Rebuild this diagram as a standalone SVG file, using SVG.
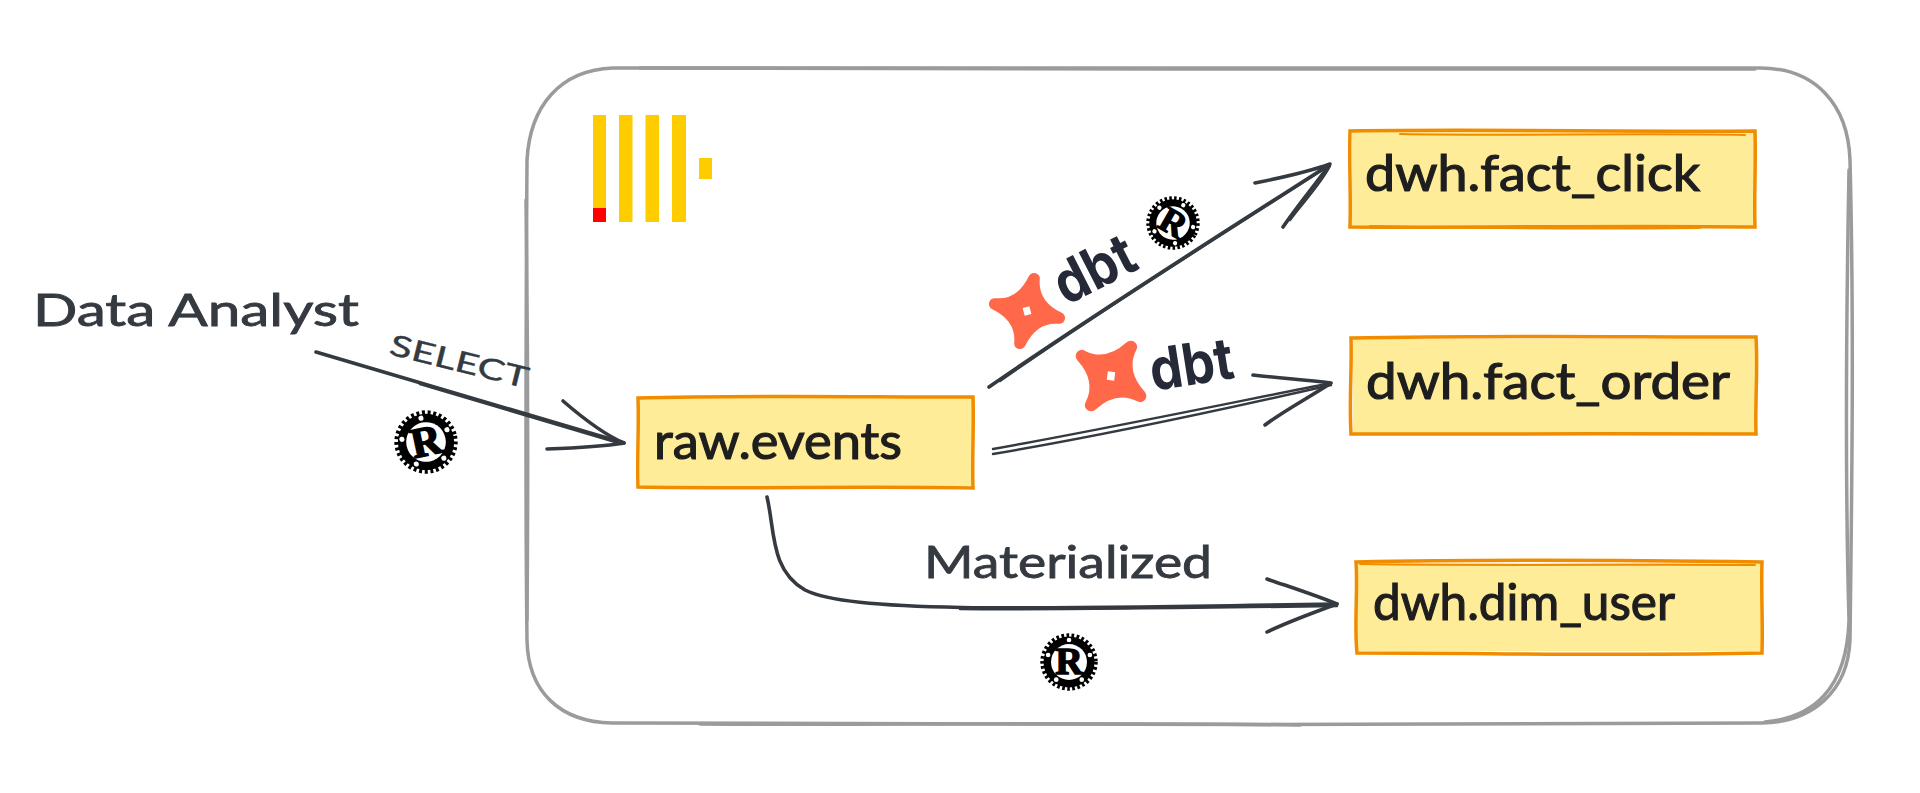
<svg xmlns="http://www.w3.org/2000/svg" width="1920" height="793" viewBox="0 0 1920 793">
<style>
.frame{fill:none;stroke:#9b9b9b;stroke-width:3.5;stroke-linecap:round}
.fill{fill:#ffec99}
.edge{fill:none;stroke:#f08c00;stroke-width:3.5;stroke-linecap:round}
.edge2{fill:none;stroke:#f08c00;stroke-width:2;stroke-linecap:round}
.line{fill:none;stroke:#343a40;stroke-width:3.600;stroke-linecap:round;stroke-linejoin:round}
.thin{fill:none;stroke:#343a40;stroke-width:2.400;stroke-linecap:round;stroke-linejoin:round}
.tbl{font-family:"Lato","Noto Sans",sans-serif;font-size:50px;fill:#1e1e1e;stroke:#1e1e1e;stroke-width:1.2}
.lbl{font-family:"Lato","Noto Sans",sans-serif;font-size:44px;fill:#343a40;stroke:#343a40;stroke-width:.8}
.sel{font-family:"Lato","Noto Sans",sans-serif;font-size:29px;fill:#343a40;stroke:#343a40;stroke-width:.4}
.dbt{font-family:"Inter","Liberation Sans",sans-serif;font-size:58px;font-weight:700;fill:#262a38}
.yb{fill:#fc0}
</style>
<defs>
<g id="rust">
<circle r="90" fill="none" stroke="#000" stroke-width="18" stroke-dasharray="9 8.2"/>
<circle r="88" fill="#000"/>
<circle r="62" fill="#fff"/>
<text x="0" y="42" text-anchor="middle" font-family="Liberation Serif" font-weight="700" font-size="132" fill="#000" stroke="#000" stroke-width="5">R</text>
<circle cx="0" cy="-76" r="8" fill="#fff"/><circle cx="72" cy="-24" r="8" fill="#fff"/><circle cx="44" cy="61" r="8" fill="#fff"/><circle cx="-44" cy="61" r="8" fill="#fff"/><circle cx="-72" cy="-24" r="8" fill="#fff"/>
</g>
<g id="dbtstar">
<path d="M36,-44 Q12,-6 44,36 Q6,12 -36,44 Q-12,6 -44,-36 Q-6,-12 36,-44 Z" fill="#ff694a" stroke="#ff694a" stroke-width="20" stroke-linejoin="round"/>
<rect x="-6" y="-7" width="12" height="14" fill="#fff" transform="rotate(12)"/>
</g>
</defs>
<rect width="1920" height="793" fill="#fff"/>

<g id="cluster-frame">
<path class="frame" d="M613,68 C900,66 1300,68 1760,68 C1815,68 1848,104 1850,160 C1854,320 1852,480 1850,640 C1848,692 1812,722 1762,723 C1400,726 950,724 612,723 C560,722 528,692 527,640 C525,480 526,320 527,160 C530,106 560,70 613,68 Z"/>
<path class="frame" d="M640,68 C1000,70 1400,68 1755,69 M1849,170 C1846,330 1845,480 1849,620 C1847,690 1812,718 1765,722 M1300,725 C1100,722 850,725 700,724 M526,200 C528,350 528,500 527,620"/>
</g>

<g id="clickhouse-logo">
<rect class="yb" x="593" y="115" width="13" height="107"/>
<rect x="593" y="208" width="13" height="14" fill="#f00"/>
<rect class="yb" x="619" y="115" width="13.500" height="107"/>
<rect class="yb" x="645.500" y="115" width="13.500" height="107"/>
<rect class="yb" x="672" y="115" width="14" height="107"/>
<rect class="yb" x="699" y="158" width="13" height="21"/>
</g>

<g id="connectors">
<g id="edge-select">
<path class="line" d="M316,352 L624,443"/>
<path class="thin" d="M420,384 L622,444"/>
<path class="line" d="M563,401 C585,420 605,435 624,443 C600,447 575,448 547,449"/>
</g>
<g id="edge-click">
<path class="line" d="M989,387 C1100,310 1220,235 1329,165"/>
<path class="thin" d="M1000,381 C1110,304 1230,230 1327,167"/>
<path class="line" d="M1255,183 C1280,178 1305,173 1330,164 C1315,185 1298,205 1283,227"/>
<path class="thin" d="M1290,220 C1305,200 1320,185 1330,166"/>
</g>
<g id="edge-order">
<path class="thin" d="M993,449 C1100,430 1220,405 1331,383"/>
<path class="thin" d="M993,454 C1100,436 1230,408 1331,385"/>
<path class="line" d="M1253,375 C1280,378 1305,380 1331,383 C1310,397 1285,410 1265,425"/>
</g>
<g id="edge-materialized">
<path class="line" d="M767,497 C775,530 770,570 805,590 C850,612 1000,610 1337,604"/>
<path class="thin" d="M960,609 C1050,610 1200,608 1337,606"/>
<path class="line" d="M1267,579 C1290,587 1315,595 1337,604 C1315,612 1290,621 1267,632"/>
</g>
</g>

<g id="actor-analyst">
<text class="lbl" x="33" y="326" textLength="326" lengthAdjust="spacingAndGlyphs">Data Analyst</text>
</g>
<g id="label-select">
<text class="sel" transform="translate(388,354) rotate(14)" textLength="142" lengthAdjust="spacingAndGlyphs">SELECT</text>
<use href="#rust" transform="translate(426,442) rotate(-12) scale(.32)"/>
</g>

<g id="node-raw-events">
<rect class="fill" x="640" y="398" width="332" height="88"/>
<path class="edge" d="M638,398 C750,395 860,397 973,397 C974,425 972,460 973,488 C860,486 750,489 638,487 C637,460 639,425 638,398 Z"/>
<text class="tbl" x="654" y="459" textLength="248" lengthAdjust="spacingAndGlyphs">raw.events</text>
</g>
<g id="node-fact-click">
<rect class="fill" x="1352" y="132" width="402" height="94"/>
<path class="edge" d="M1350,131 C1490,129 1620,132 1755,131 C1756,165 1754,195 1755,227 C1620,225 1490,228 1350,227 C1351,195 1349,165 1350,131 Z"/>
<path class="edge2" d="M1400,134 C1500,136 1650,133 1745,135 M1370,226 C1500,229 1600,229 1700,228"/>
<text class="tbl" x="1365" y="191" textLength="335" lengthAdjust="spacingAndGlyphs">dwh.fact_click</text>
</g>
<g id="node-fact-order">
<rect class="fill" x="1353" y="339" width="402" height="94"/>
<path class="edge" d="M1351,338 C1490,335 1620,337 1756,337 C1758,370 1755,400 1756,434 C1620,433 1490,435 1351,434 C1349,400 1352,370 1351,338 Z"/>
<text class="tbl" x="1366" y="399" textLength="364" lengthAdjust="spacingAndGlyphs">dwh.fact_order</text>
</g>
<g id="node-dim-user">
<rect class="fill" x="1357" y="563" width="405" height="88"/>
<path class="edge" d="M1356,562 C1490,559 1620,560 1762,562 C1761,590 1763,625 1762,653 C1620,656 1490,653 1357,653 C1354,625 1358,590 1356,562 Z"/>
<path class="edge2" d="M1360,564 C1500,566 1650,564 1755,565"/>
<text class="tbl" x="1373" y="620" textLength="302" lengthAdjust="spacingAndGlyphs">dwh.dim_user</text>
</g>

<g id="label-materialized">
<text class="lbl" x="924" y="578" textLength="288" lengthAdjust="spacingAndGlyphs">Materialized</text>
<use href="#rust" transform="translate(1069,662) scale(.29)"/>
</g>
<g id="label-dbt-click">
<use href="#dbtstar" transform="translate(1027,311) rotate(-27) scale(.58)"/>
<text class="dbt" transform="translate(1066,306) rotate(-27)" textLength="84" lengthAdjust="spacingAndGlyphs">dbt</text>
<use href="#rust" transform="translate(1173,223) rotate(30) scale(.27)"/>
</g>
<g id="label-dbt-order">
<use href="#dbtstar" transform="translate(1111,376) rotate(-5) scale(.62)"/>
<text class="dbt" transform="translate(1153,391) rotate(-9)" textLength="84" lengthAdjust="spacingAndGlyphs">dbt</text>
</g>
</svg>
